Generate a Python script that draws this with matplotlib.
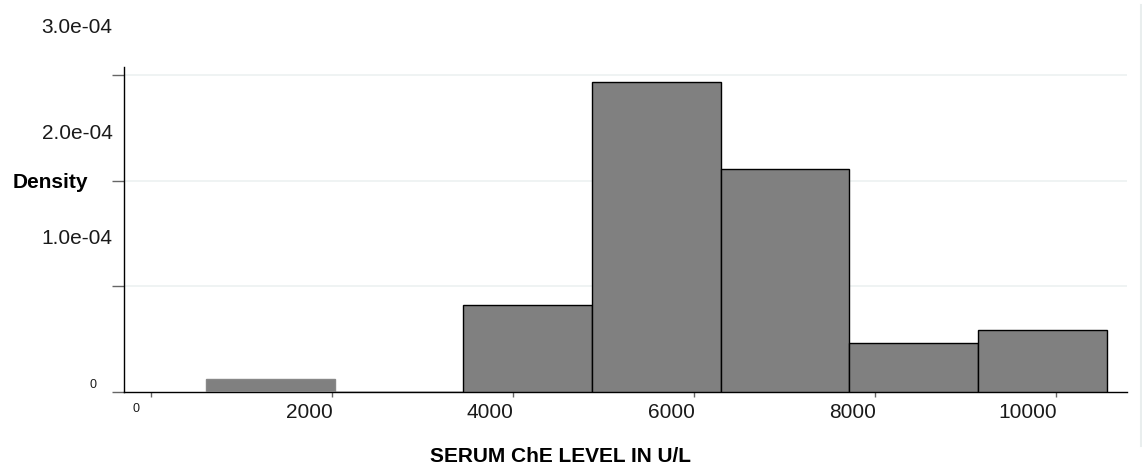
import matplotlib
matplotlib.use("Agg")
import matplotlib.pyplot as plt
import matplotlib.transforms as mtransforms
from matplotlib.lines import Line2D

# ---- data ----
bin_edges = [611, 2033, 3455, 4877, 6299, 7721, 9143, 10565]
densities = [1.2e-05, 0.0, 8.23e-05, 2.93e-04, 2.107e-04, 4.66e-05, 5.84e-05]
xticks = [0, 2000, 4000, 6000, 8000, 10000]
xtick_labels = ["0", "2000", "4000", "6000", "8000", "10000"]
yticks = [0, 1e-4, 2e-4, 3e-4]
ytick_labels = ["0", "1.0e-04", "2.0e-04", "3.0e-04"]
xlabel = "SERUM ChE LEVEL IN U/L"
ylabel = "Density"

plt.rcParams["font.family"] = ["Liberation Sans", "DejaVu Sans"]

W, H, DPI = 1142, 466, 100
fig = plt.figure(figsize=(W / DPI, H / DPI), dpi=DPI)
ax = fig.add_axes([124 / W, (H - 392) / H, (1127 - 124) / W, (392 - 67) / H])

widths = [bin_edges[i + 1] - bin_edges[i] for i in range(len(densities))]
bars = ax.bar(bin_edges[:-1], densities, width=widths, align="edge",
              color="#808080", edgecolor="black", linewidth=1.0, zorder=3)
bars[0].set_edgecolor("#888888")

ax.set_xlim(-295, 10788)
ax.set_ylim(0, 3.075e-4)

# gridlines
for v in yticks[1:]:
    ax.axhline(v, color="#eef2f2", linewidth=1.3, zorder=1)

ax.spines["top"].set_visible(False)
ax.spines["right"].set_visible(False)
ax.spines["left"].set_color("black")
ax.spines["bottom"].set_color("black")
ax.spines["left"].set_linewidth(1.0)
ax.spines["bottom"].set_linewidth(1.0)

ax.set_xticks(xticks, labels=[""] * len(xticks))
ax.set_yticks(yticks, labels=[""] * len(yticks))
ax.tick_params(axis="x", direction="out", length=3.6, width=1.0, color="#666666")
ax.tick_params(axis="y", direction="out", length=8.6, width=1.0, color="#666666")

# y tick labels (offset upward as in the reference)
ytr = ax.get_yaxis_transform()
for v, lab in zip(yticks, ytick_labels):
    if lab == "0":
        off = mtransforms.ScaledTranslation(-28 / DPI, 7.3 / DPI, fig.dpi_scale_trans)
        ax.text(0, v, lab, transform=ytr + off, ha="right", va="center",
                fontsize=9, color="#1a1a1a")
    else:
        off = mtransforms.ScaledTranslation(-11.3 / DPI, 47.6 / DPI, fig.dpi_scale_trans)
        ax.text(0, v, lab, transform=ytr + off, ha="right", va="center",
                fontsize=15, color="#1a1a1a")

# x tick labels (right-aligned to the tick)
xtr = ax.get_xaxis_transform()
for v, lab in zip(xticks, xtick_labels):
    if lab == "0":
        off = mtransforms.ScaledTranslation(-10.7 / DPI, -17 / DPI, fig.dpi_scale_trans)
        ax.text(v, 0, lab, transform=xtr + off, ha="right", va="center",
                fontsize=9, color="#1a1a1a")
    else:
        off = mtransforms.ScaledTranslation(1 / DPI, -20.8 / DPI, fig.dpi_scale_trans)
        ax.text(v, 0, lab, transform=xtr + off, ha="right", va="center",
                fontsize=15, color="#1a1a1a")

# axis titles
fig.text(560 / W, 1 - 456.5 / H, xlabel, ha="center", va="center",
         fontsize=15, fontweight="bold", color="black")
fig.text(12.7 / W, 1 - 183 / H, ylabel, ha="left", va="center",
         fontsize=15, fontweight="bold", color="black")

# faint right border
fig.add_artist(Line2D([1140.5 / W, 1140.5 / W], [1 - 5 / H, 1 - 446 / H],
                      transform=fig.transFigure, color="#e9eeee", linewidth=1.5))

fig.savefig("out.png", dpi=DPI)
